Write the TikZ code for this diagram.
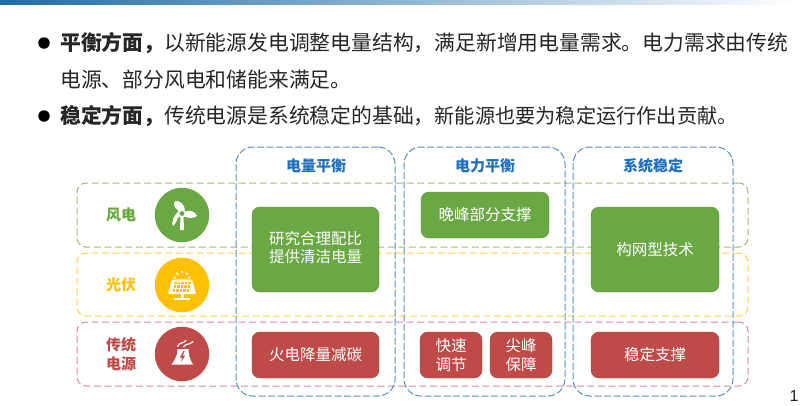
\documentclass[tikz,border=0pt]{standalone}
\usepackage{fontspec}
\setmainfont{Noto Sans CJK SC}
\newfontfamily\latinfont{Liberation Sans}
\definecolor{cgreen}{HTML}{6AA843}
\definecolor{cred}{HTML}{BE4B48}
\definecolor{cyel}{HTML}{FFC000}
\definecolor{cblue}{HTML}{5A8FBF}
\definecolor{chead}{HTML}{1F6FBF}
\definecolor{rowg}{HTML}{9DBB72}
\definecolor{rowy}{HTML}{FFD24D}
\definecolor{rowr}{HTML}{D98A9E}
\definecolor{ink}{HTML}{262626}
\definecolor{barl}{HTML}{1F6CA8}
\definecolor{barm}{HTML}{9CBEDF}
\tikzset{
  linetext/.style={anchor=base west,inner sep=0pt,text=ink,font=\fontsize{20.8}{24}\selectfont},
  dot/.style={circle,fill=black,inner sep=0pt,minimum size=11.5pt},
  rowbox/.style={rectangle,draw=#1,dash pattern=on 7pt off 3.5pt,line width=1pt,rounded corners=9pt,fill=none,inner sep=0pt},
  colbox/.style={rectangle,draw=cblue,dash pattern=on 7pt off 2.5pt,line width=1pt,rounded corners=17pt,inner sep=0pt},
  card/.style={rectangle,fill=#1,draw=#1!85!black,line width=0.4pt,rounded corners=8pt,inner sep=0pt,text=white,align=center,
    font=\fontsize{15.5}{19}\selectfont},
  head/.style={text=chead,font=\fontsize{15}{18}\bfseries\selectfont,inner sep=0pt},
  rowlabel/.style={text=#1,font=\fontsize{15}{19}\bfseries\selectfont,inner sep=0pt,align=center},
  disc/.style={circle,fill=#1,inner sep=0pt,minimum size=54.5pt},
}
\begin{document}
\begin{tikzpicture}[x=1pt,y=-1pt]
\useasboundingbox[fill=white] (0,0) rectangle (800,405);
% top bar
\shade[left color=barl,middle color=barm,right color=white] (0,0) rectangle (800,4);
% bullets and text
\node[dot] (b1) at (44,43) {};
\node[dot] (b2) at (44,116) {};
\node[linetext] (t1) at (60,50.5) {\textbf{平衡方面，}以新能源发电调整电量结构，满足新增用电量需求。电力需求由传统};
\node[linetext] (t2) at (60,87) {电源、部分风电和储能来满足。};
\node[linetext] (t3) at (60,123) {\textbf{稳定方面，}传统电源是系统稳定的基础，{\fontsize{20.2}{24}\selectfont 新能源也要为稳定运行作出贡献。}};
% rows
\node[rowbox=rowg,minimum width=671pt,minimum height=64pt] (rw) at (412.5,215) {};
\node[rowbox=rowy,minimum width=671pt,minimum height=63pt] (rs) at (412.5,284.5) {};
\node[rowbox=rowr,minimum width=671pt,minimum height=64pt] (rt) at (412.5,354) {};
% columns
\node[colbox,minimum width=159pt,minimum height=249pt] (c1) at (315.5,271.5) {};
\node[colbox,minimum width=161pt,minimum height=249pt] (c2) at (484.5,271.5) {};
\node[colbox,minimum width=160pt,minimum height=249pt] (c3) at (653,271.5) {};
% headers
\node[head] (h1) at (316,166) {电量平衡};
\node[head] (h2) at (485,166) {电力平衡};
\node[head] (h3) at (653,166) {系统稳定};
% row labels
\node[rowlabel=cgreen] (l1) at (121,215) {风电};
\node[rowlabel=cyel] (l2) at (121,285) {光伏};
\node[rowlabel=cred] (l3) at (121,354.5) {传统\\电源};
% discs
\node[disc=cgreen] (d1) at (182,215) {};
\node[disc=cyel] (d2) at (182,285) {};
\node[disc=cred] (d3) at (182,354) {};
% wind icon
\fill[white] (182,213) .. controls (176,210) and (172,205) .. (175,201) .. controls (180,200) and (185,205) .. (185,211) -- cycle;
\fill[white] (184,212) .. controls (190,209) and (196,212) .. (197,216) .. controls (193,219) and (187,218) .. (183,216) -- cycle;
\fill[white] (180,214) .. controls (177,219) and (176,224) .. (173,226) .. controls (171,224) and (173,216) .. (179,211) -- cycle;
\fill[white] (180.5,217) -- (183.5,217) -- (184,230) -- (180,230) -- cycle;
\fill[white] (182,213.5) circle (4.2pt);
\fill[cgreen] (182,213.5) circle (2.4pt);
% solar icon
\fill[white] (176,279.5) arc[start angle=180,end angle=360,radius=6pt];
\foreach \a in {15,50,90,130,165}{\draw[white,line width=1.5pt] (182,279.5) ++({6.5*cos(\a)},{-6.5*sin(\a)}) -- ++({2.2*cos(\a)},{-2.2*sin(\a)});}
\fill[white,rounded corners=1pt] (172,279.5) -- (192,279.5) -- (196,294) -- (168,294) -- cycle;
\foreach \j in {0,1,2}{\foreach \i in {0,1,2,3,4}{
  \fill[cyel] ({174.4+\i*3.5-(\j*0.9)},{281.5+\j*3.9}) rectangle ++({2.5+\j*0.12},2.6);}}
\fill[white] (180.5,294) rectangle (183.5,298);
\fill[white] (174,297.5) rectangle (190,299.8);
% plant icon
\fill[white] (177.5,349) .. controls (177.5,355) and (175,360) .. (171.5,364.5) -- (193,364.5) .. controls (190,360) and (188.5,355) .. (188.5,349) -- cycle;
\fill[cred] (183.5,351) -- (179.8,357.6) -- (182.2,357.6) -- (180.8,362) -- (185.3,355.6) -- (182.8,355.6) -- (184.6,351) -- cycle;
\draw[white,line width=1.2pt,line cap=round] (177.5,346.5) .. controls (179,342) and (183,344) .. (186,340.5);
\draw[white,line width=1.2pt,line cap=round] (183.5,347) .. controls (185,343.5) and (190,345) .. (193,341.5);
% cards
\node[card=cgreen,minimum width=127pt,minimum height=85pt] (k1) at (315.5,249.5) {\raisebox{-1.5pt}{\begin{tabular}{@{}c@{}}研究合理配比\\[-0.5pt]提供清洁电量\end{tabular}}};
\node[card=cred,minimum width=127pt,minimum height=46pt] (k2) at (315.5,355) {火电降量减碳};
\node[card=cgreen,minimum width=128pt,minimum height=46pt] (k3) at (485,215) {晚峰部分支撑};
\node[card=cred,minimum width=62pt,minimum height=46pt] (k4) at (451,355) {快速\\调节};
\node[card=cred,minimum width=62pt,minimum height=46pt] (k5) at (521,355) {尖峰\\保障};
\node[card=cgreen,minimum width=128pt,minimum height=85pt] (k6) at (655,249.5) {构网型技术};
\node[card=cred,minimum width=128pt,minimum height=46pt] (k7) at (655,355) {稳定支撑};
% page number
\node[inner sep=0pt,text=ink,font=\latinfont\fontsize{16}{18}\selectfont] (pg) at (794,396) {1};
\end{tikzpicture}
\end{document}
